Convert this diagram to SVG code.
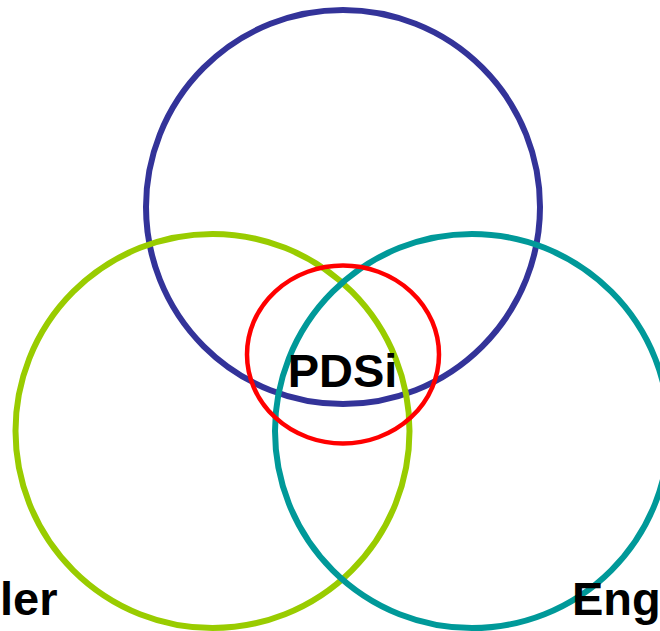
<svg xmlns="http://www.w3.org/2000/svg" width="660" height="631" viewBox="0 0 660 631">
<style>
.ring{fill:none;stroke-width:6}
.lbl{font-family:"Liberation Sans",Arial,sans-serif;font-weight:bold;font-size:47px;fill:#000}
</style>
<rect width="660" height="631" fill="#fff"/>
<g id="blue"><circle class="ring" cx="343" cy="207" r="197" stroke="#333399"/></g>
<g id="green"><circle class="ring" cx="212.5" cy="431" r="197" stroke="#99CC00"/></g>
<g id="teal"><circle class="ring" cx="472" cy="431" r="197" stroke="#009999"/></g>
<g id="pdsi"><ellipse cx="343" cy="354.5" rx="96" ry="89" fill="none" stroke="#FF0000" stroke-width="4.5"/>
<text class="lbl" x="342.5" y="387" text-anchor="middle">PDSi</text></g>
<g id="label-left"><text class="lbl" x="0" y="615">ler</text></g>
<g id="label-right"><text class="lbl" x="572" y="615">Eng</text></g>
<g id="connectors"></g>
</svg>
